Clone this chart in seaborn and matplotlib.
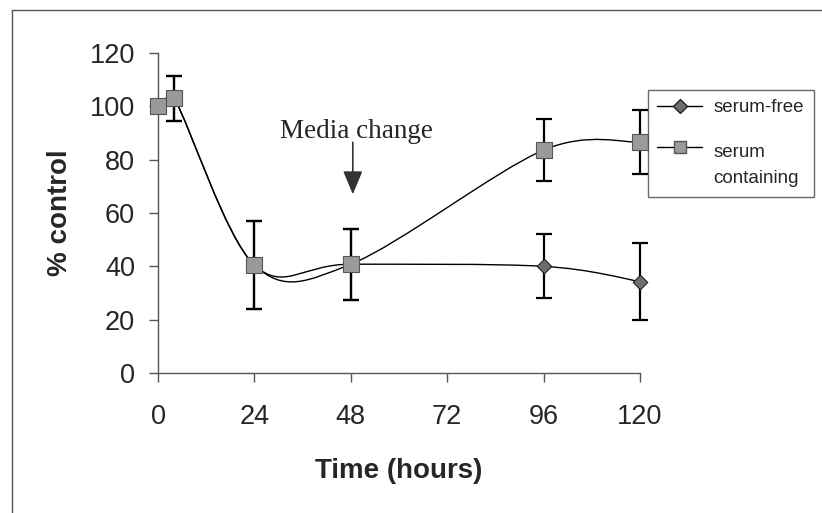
import numpy as np
import matplotlib
matplotlib.use("Agg")
import matplotlib.pyplot as plt
import seaborn as sns
from matplotlib.path import Path
from matplotlib.patches import PathPatch
from matplotlib.lines import Line2D
from matplotlib.legend_handler import HandlerLine2D

# data
time_h = [0, 4, 24, 48, 96, 120]
serum_free = [100, 103, 40.5, 40.8, 40, 34.3]
serum_free_err = [0, 8.5, 16.5, 13.3, 12, 14.5]
serum_cont = [100, 103, 40.5, 40.8, 83.6, 86.6]
serum_cont_err = [0, 8.5, 16.5, 13.3, 11.5, 12]
x_ticks = [0, 24, 48, 72, 96, 120]
y_ticks = [0, 20, 40, 60, 80, 100, 120]

sns.set_style("ticks")
plt.rcParams["font.family"] = ["Liberation Sans", "DejaVu Sans"]

fig = plt.figure(figsize=(8.22, 5.13), dpi=100)
ax = fig.add_axes([158 / 822, 1 - 373 / 513, (640 - 158) / 822, 320 / 513])
ax.set_xlim(0, 120)
ax.set_ylim(0, 120)


def smooth_path(x, y):
    # excel-like smoothed line, cubic bezier through the points.
    # control points are clamped so short segments don't loop
    pts = np.column_stack([x, y]).astype(float)
    scr = ax.transData.transform(pts)
    n = len(pts)
    verts = [pts[0]]
    codes = [Path.MOVETO]
    for i in range(n - 1):
        a, b = max(i - 1, 0), min(i + 2, n - 1)
        chord = np.hypot(*(scr[i + 1] - scr[i]))
        c1 = scr[i] + (scr[i + 1] - scr[a]) / 6
        c2 = scr[i + 1] - (scr[b] - scr[i]) / 6
        for c, p in ((c1, scr[i]), (c2, scr[i + 1])):
            d = np.hypot(*(c - p))
            if d > 0.5 * chord:
                c[:] = p + (c - p) * 0.5 * chord / d
        cc = ax.transData.inverted().transform(np.array([c1, c2]))
        verts += [cc[0], cc[1], pts[i + 1]]
        codes += [Path.CURVE4] * 3
    return Path(verts, codes)


# smoothed lines
for yy in (serum_free, serum_cont):
    ax.add_patch(PathPatch(smooth_path(time_h, yy), fill=False, edgecolor="black",
                           lw=1.0, zorder=2))

# error bars
for yy, ee in ((serum_free, serum_free_err), (serum_cont, serum_cont_err)):
    eb = ax.errorbar(time_h, yy, yerr=ee, fmt="none", ecolor="black",
                     elinewidth=1.6, capsize=6, capthick=1.6, zorder=3)
    for art in eb.get_children():
        art.set_clip_on(False)

# markers
sns.scatterplot(x=time_h, y=serum_free, marker="D", s=55, color="#6e6e6e",
                edgecolor="#222222", linewidth=0.8, ax=ax, zorder=4, clip_on=False)
sns.scatterplot(x=time_h, y=serum_cont, marker="s", s=120, color="#9a9a9a",
                edgecolor="#555555", linewidth=0.8, ax=ax, zorder=5, clip_on=False)

ax.set_xticks(x_ticks)
ax.set_yticks(y_ticks)
ax.tick_params(axis="both", labelsize=19.5, direction="out", length=6.5,
               width=1, color="#555555")
ax.tick_params(axis="x", pad=16)
ax.tick_params(axis="y", pad=10)
sns.despine(ax=ax)
for sp in ("left", "bottom"):
    ax.spines[sp].set_color("#555555")
    ax.spines[sp].set_linewidth(1)

ax.set_xlabel("Time (hours)", fontsize=20, fontweight="bold", labelpad=20)
ax.set_ylabel("% control", fontsize=20, fontweight="bold", labelpad=12)

# media change note
ax.text(49.5, 88, "Media change", fontsize=19.5, family=["Liberation Serif", "DejaVu Serif"],
        ha="center", va="baseline")
ax.annotate("", xy=(48.5, 67.0), xytext=(48.5, 86.5),
            arrowprops=dict(arrowstyle="-|>,head_length=0.72,head_width=0.3",
                            mutation_scale=20, color="#333333", lw=1.2,
                            shrinkA=0, shrinkB=0))


class RaisedHandler(HandlerLine2D):
    # put the handle next to the first line of a two-line label
    def create_artists(self, legend, orig_handle, xdescent, ydescent,
                       width, height, fontsize, trans):
        return super().create_artists(legend, orig_handle, xdescent, ydescent - 26,
                                      width, height, fontsize, trans)


h_free = Line2D([], [], color="black", lw=1, marker="D", markersize=7,
                markerfacecolor="#6e6e6e", markeredgecolor="#222222")
h_cont = Line2D([], [], color="black", lw=1, marker="s", markersize=9,
                markerfacecolor="#9a9a9a", markeredgecolor="#555555")
leg = fig.legend([h_free, h_cont], ["serum-free", "serum\ncontaining"], loc="upper left",
                 bbox_to_anchor=(648 / 822, 1 - 90 / 513), fontsize=13.5,
                 frameon=True, fancybox=False, edgecolor="#444444",
                 borderpad=0.5, labelspacing=1.45, handlelength=2.4,
                 handletextpad=0.6, borderaxespad=0,
                 handler_map={h_cont: RaisedHandler()})
leg.get_frame().set_linewidth(1)
for t in leg.get_texts():
    t.set_linespacing(1.75)

# outer chart border (top and left visible in the scan)
fig.add_artist(Line2D([12 / 822, 1], [1 - 10 / 513, 1 - 10 / 513],
                      transform=fig.transFigure, color="#555555", lw=1))
fig.add_artist(Line2D([12 / 822, 12 / 822], [0, 1 - 10 / 513],
                      transform=fig.transFigure, color="#555555", lw=1))

fig.savefig("out.png", dpi=100)
